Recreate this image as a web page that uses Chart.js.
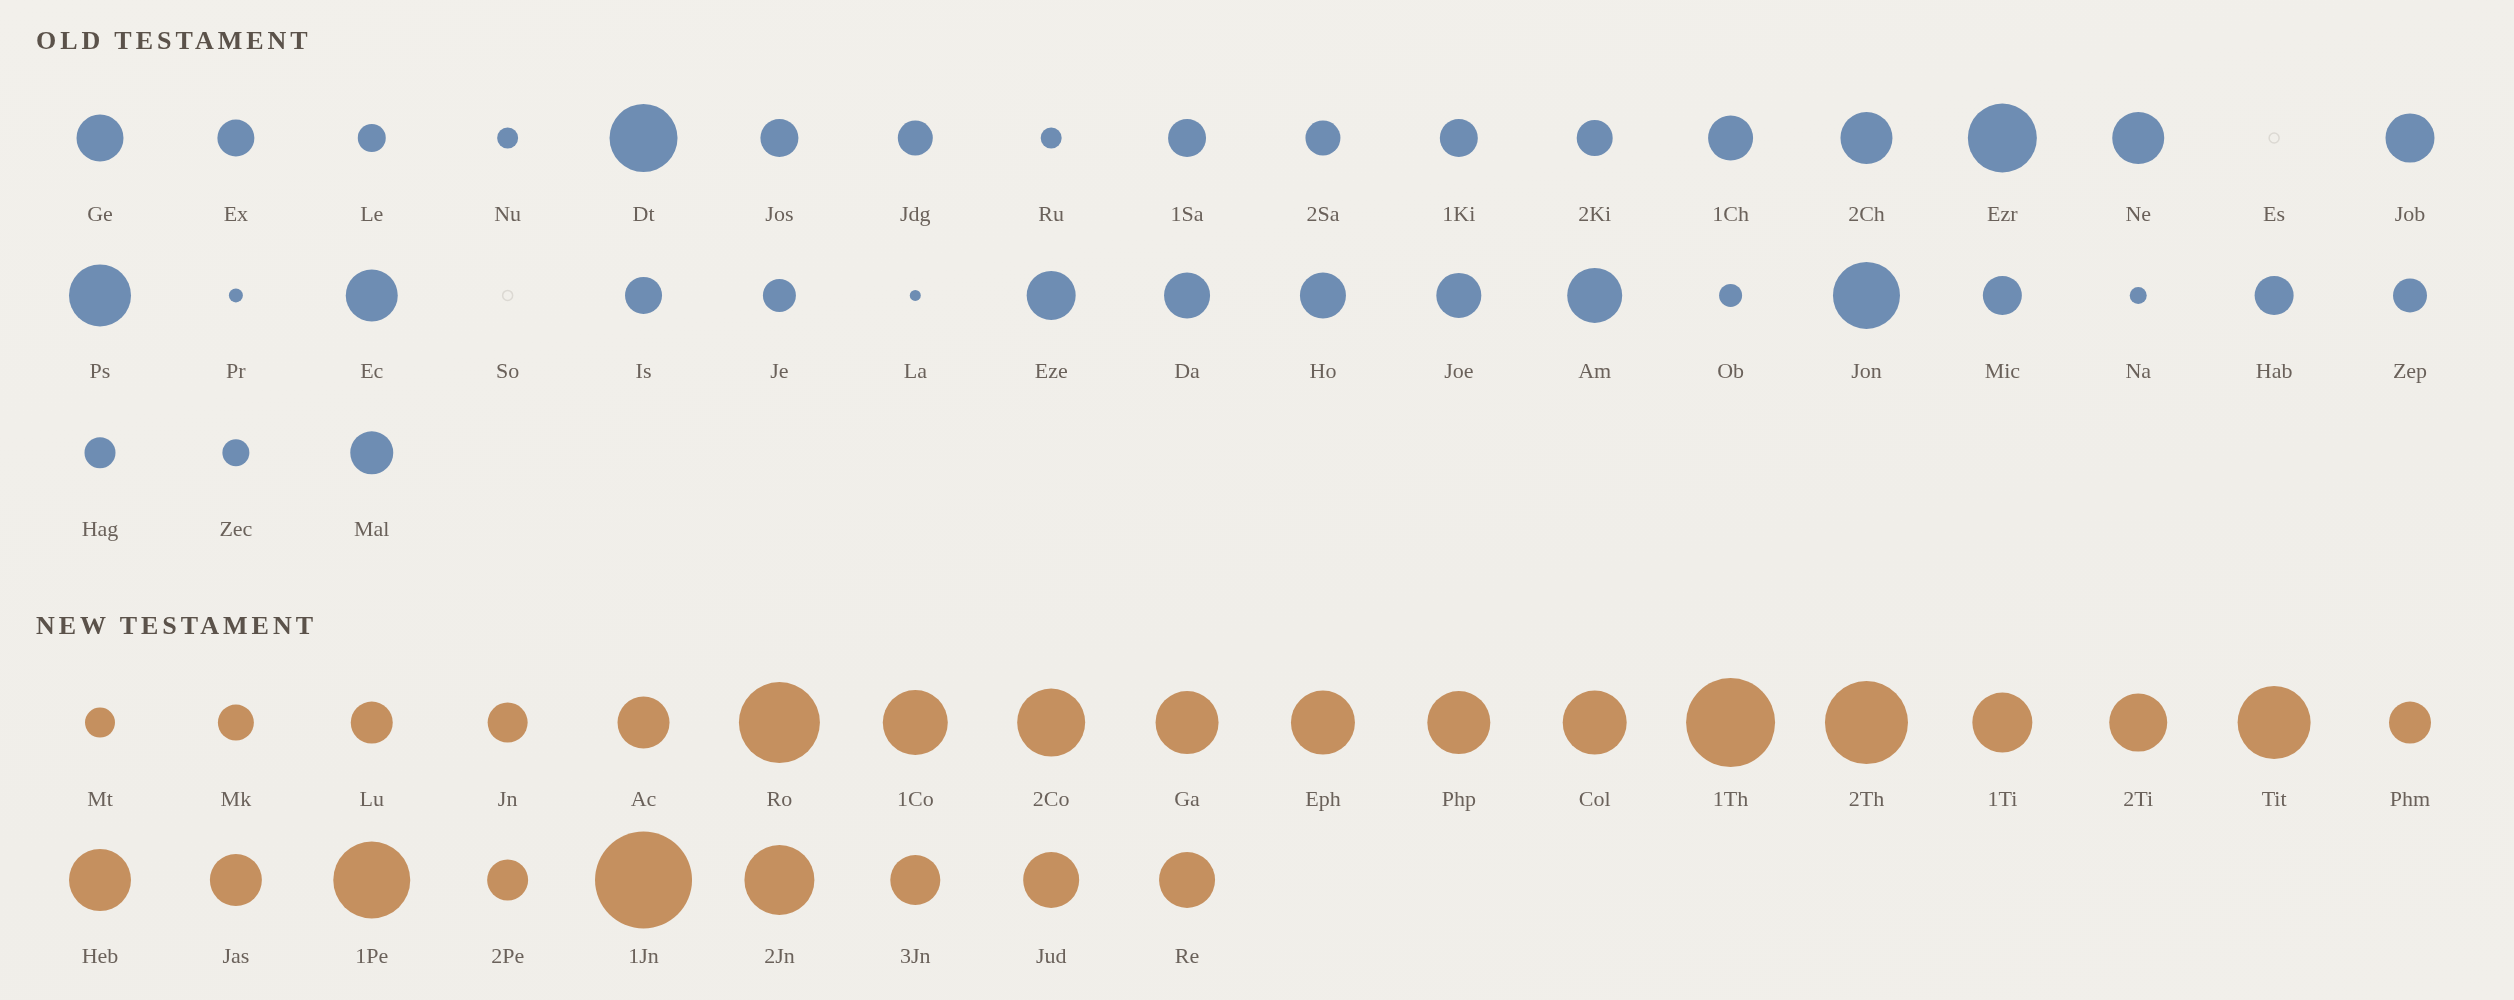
<!DOCTYPE html>
<html>
<head>
<meta charset="utf-8">
<script src="https://cdn.jsdelivr.net/npm/chart.js@4/dist/chart.umd.min.js"></script>
<style>
  body { margin: 0; background: #f1efea; }
  #wrap { position: relative; width: 2514px; height: 1000px; background: linear-gradient(170deg, #f2f0eb 0%, #f0eee9 60%, #f1efea 100%); }
  .heading { position: absolute; left: 36px; font-family: "Liberation Serif", serif; font-weight: bold; font-size: 26px; letter-spacing: 4px; color: #5b524a; line-height: 1; }
</style>
</head>
<body>
<div id="wrap">
  <div class="heading" style="top: 28px;">OLD TESTAMENT</div>
  <div class="heading" style="top: 613px;">NEW TESTAMENT</div>
  <canvas id="graphCanvas" width="2514" height="1000"></canvas>
</div>
<script>
// livres et valeurs
var otBooks = ['Ge','Ex','Le','Nu','Dt','Jos','Jdg','Ru','1Sa','2Sa','1Ki','2Ki','1Ch','2Ch','Ezr','Ne','Es','Job',
  'Ps','Pr','Ec','So','Is','Je','La','Eze','Da','Ho','Joe','Am','Ob','Jon','Mic','Na','Hab','Zep',
  'Hag','Zec','Mal'];
var otValues = [47,37,28,21,68,38,35,21,38,35,38,36,45,52,69,52,0,49,
  62,14,52,0,37,33,11,49,46,46,45,55,23,67,39,17,39,34,
  31,27,43];

var ntBooks = ['Mt','Mk','Lu','Jn','Ac','Ro','1Co','2Co','Ga','Eph','Php','Col','1Th','2Th','1Ti','2Ti','Tit','Phm',
  'Heb','Jas','1Pe','2Pe','1Jn','2Jn','3Jn','Jud','Re'];
var ntValues = [30,36,42,40,52,81,65,68,63,64,63,64,89,83,60,58,73,42,
  62,52,77,41,97,70,50,56,56];

var perRow = 18;
var ntRowStart = 3.714;

function buildPoints(books, values, rowStart)
{
  var pts = [];
  for (var i = 0; i < books.length; i++) {
    pts.push({
      x: i % perRow,
      y: rowStart + Math.floor(i / perRow),
      r: values[i] > 0 ? values[i] / 2 : 5,
      label: books[i],
      v: values[i]
    });
  }
  return pts;
}

function fill(color)
{
  return function (ctx) {
    var p = ctx.raw;
    return (p && p.v > 0) ? color : 'rgba(0,0,0,0)';
  };
}
function border(color)
{
  return function (ctx) {
    var p = ctx.raw;
    return (p && p.v > 0) ? color : '#dcd9d3';
  };
}

var labelPlugin = {
  id: 'bookLabels',
  afterDatasetsDraw: function (chart) {
    var ctx = chart.ctx;
    ctx.save();
    ctx.font = '22px "Liberation Serif", serif';
    ctx.fillStyle = '#6a615a';
    ctx.textAlign = 'center';
    ctx.textBaseline = 'alphabetic';
    chart.data.datasets.forEach(function (ds, di) {
      var meta = chart.getDatasetMeta(di);
      meta.data.forEach(function (el, i) {
        ctx.fillText(ds.data[i].label, el.x, el.y + 83);
      });
    });
    ctx.restore();
  }
};

var chartdata = {
  datasets: [
    {
      label: 'Old Testament',
      data: buildPoints(otBooks, otValues, 0),
      backgroundColor: fill('#6e8db3'),
      borderColor: border('#6e8db3'),
      borderWidth: function (ctx) { return (ctx.raw && ctx.raw.v > 0) ? 0 : 1.5; }
    },
    {
      label: 'New Testament',
      data: buildPoints(ntBooks, ntValues, ntRowStart),
      backgroundColor: fill('#c5905f'),
      borderColor: border('#c5905f'),
      borderWidth: function (ctx) { return (ctx.raw && ctx.raw.v > 0) ? 0 : 1.5; }
    }
  ]
};

var bubbleChart = new Chart(document.getElementById('graphCanvas'), {
  type: 'bubble',
  data: chartdata,
  plugins: [labelPlugin],
  options: {
    responsive: false,
    animation: false,
    events: [],
    clip: false,
    layout: { padding: { left: 100, right: 104, top: 138, bottom: 120 } },
    plugins: { legend: { display: false }, tooltip: { enabled: false } },
    scales: {
      x: { type: 'linear', display: false, min: 0, max: perRow - 1 },
      y: { type: 'linear', display: false, reverse: true, min: 0, max: ntRowStart + 1 }
    }
  }
});
</script>
</body>
</html>
